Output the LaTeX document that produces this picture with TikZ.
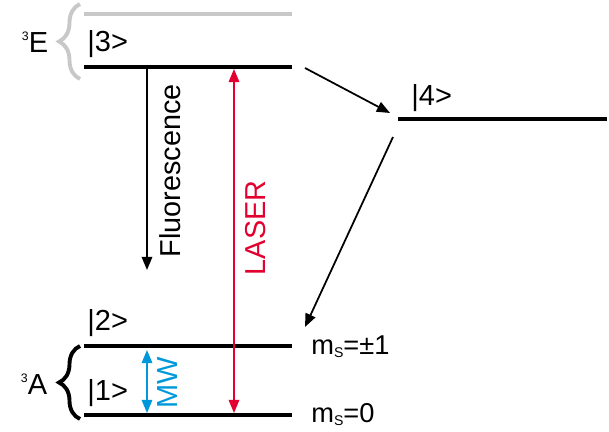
\documentclass[tikz,border=0pt]{standalone}
\usepackage{fontspec}
\setmainfont{Liberation Sans}
\usepackage{xcolor}
\usetikzlibrary{arrows.meta,decorations.pathreplacing}

\definecolor{laserred}{RGB}{226,0,48}
\definecolor{mwblue}{RGB}{0,152,218}
\definecolor{bargray}{RGB}{200,200,200}

\tikzset{
  statebar/.style={line width=2.3pt},
  trans/.style={line width=1pt, -{Triangle[length=7.5pt,width=6pt]}},
  twoway/.style={line width=1pt, {Triangle[length=7.5pt,width=6pt]}-{Triangle[length=7.5pt,width=6pt]}},
  curly/.style={decorate, decoration={brace, amplitude=0.42cm}, line width=2.2pt},
  statelbl/.style={font=\fontsize{16.5}{18}\selectfont, inner sep=0pt},
  msl/.style={font=\fontsize{15.5}{17}\selectfont, inner sep=0pt, anchor=base west},
  biglbl/.style={font=\fontsize{16.4}{18}\selectfont, inner sep=0pt, rotate=90},
}
\newcommand{\subS}{\raisebox{-1.6pt}{\fontsize{8}{8}\selectfont S}}
\newcommand{\supthree}{\raisebox{7pt}{\fontsize{7}{7}\selectfont 3}}

\begin{document}
\begin{tikzpicture}
\useasboundingbox (0,0) rectangle (12.18,8.64);

% Energy levels
\draw[statebar, bargray] (1.68,8.36) -- (5.84,8.36);
\draw[statebar] (1.68,7.30) -- (5.84,7.30);
\draw[statebar] (7.96,6.26) -- (12.14,6.26);
\draw[statebar] (1.68,1.72) -- (5.84,1.72);
\draw[statebar] (1.68,0.34) -- (5.84,0.34);

% Braces
\draw[curly, bargray] (1.60,7.06) -- (1.60,8.56);
\draw[curly] (1.60,0.26) -- (1.60,1.72);

% Labels
\node[statelbl] (tE) at (0.70,7.80) {\supthree E};
\node[statelbl] (tA) at (0.68,0.96) {\supthree A};
\node[statelbl, anchor=base west] (k3) at (1.74,7.60) {|3>};
\node[statelbl, anchor=base west] (k4) at (8.22,6.52) {|4>};
\node[statelbl, anchor=base west] (k2) at (1.74,2.02) {|2>};
\node[statelbl, anchor=base west] (k1) at (1.74,0.62) {|1>};
\node[msl] (ms1) at (6.22,1.54) {m\subS=±1};
\node[msl] (ms0) at (6.22,0.18) {m\subS=0};

% Transitions
\coordinate (flTop) at (2.94,7.30);
\coordinate (flEnd) at (2.94,3.24);
\coordinate (lsBot) at (4.68,0.38);
\coordinate (lsTop) at (4.68,7.26);
\coordinate (mwTop) at (2.94,1.64);
\coordinate (mwBot) at (2.94,0.38);
\coordinate (isc1) at (6.10,7.28);
\coordinate (isc2) at (7.80,6.38);
\coordinate (isc3) at (7.86,5.90);
\coordinate (isc4) at (6.10,2.10);

\draw[trans] (flTop) -- (flEnd);
\draw[twoway, laserred] (lsBot) -- (lsTop);
\draw[twoway, mwblue] (mwTop) -- (mwBot);
\draw[trans] (isc1) -- (isc2);
\draw[trans] (isc3) -- (isc4);

\node[biglbl] (fl) at (3.40,5.22) {Fluorescence};
\node[biglbl, laserred] (ls) at (5.12,4.08) {LASER};
\node[statelbl, rotate=90, mwblue] (mw) at (3.36,0.98) {MW};
\end{tikzpicture}
\end{document}
